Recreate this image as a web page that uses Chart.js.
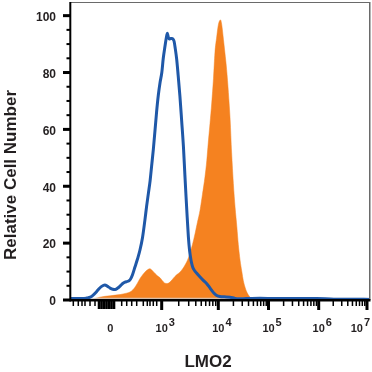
<!DOCTYPE html>
<html><head><meta charset="utf-8">
<script src="https://cdn.jsdelivr.net/npm/chart.js@4.4.0/dist/chart.umd.min.js"></script>
<style>html,body{margin:0;padding:0;background:#fff;}canvas{display:block;}</style>
</head><body>
<canvas id="c" width="372" height="372"></canvas>
<script>
const X_TITLE = "LMO2";
const Y_TITLE = "Relative Cell Number";
// display channels (0-1024) of the labelled x ticks
const X_TICK_CHANNELS = [135, 310.6, 504.5, 676.4, 848.3, 1013.7];
const X_TICK_BASE = ["0", "10", "10", "10", "10", "10"];
const X_TICK_EXP = ["", "3", "4", "5", "6", "7"];
const X_ZERO_MINOR = [7.9, 25, 37.7, 47.9, 65.1, 82.2, 173.6, 190.8, 207.9, 225, 247.6, 261.3, 270.5, 281.8, 293.5];
const X_ZERO_CLUSTER = [96, 104.5, 113, 121.6, 130.1, 138.7, 147.3];
const Y_TICKS = [0, 20, 40, 60, 80, 100];

// Blue histogram (control)
const blueChannels = [0,40,54,66,75,85,93,105,116,125,134,143,151,160,168,177,185,195,203,211,219,228,236,245,253,259,265,271,276,282,288,293,299,305,311,316,322,326,330,333,337,341,345,349,353,357,362,367,373,379,385,390,394,398,402,406,411,415,419,430,442,453,465,474,482,490,499,510,525,545,560,573,600,647,700,760,841,900,960,1024];
const blueCounts   = [0.5,0.5,0.7,1.0,1.6,2.6,3.6,4.8,5.3,4.8,4.2,3.8,3.7,4.2,4.9,5.8,6.3,6.6,7.2,9.0,11.6,14.5,17.5,22,28,33,37.5,42,47,53,60,66,72,76.5,80,85,89.3,92,93.8,92.5,91.8,92,92,91.8,91,88.5,84.6,79,71.7,63,54,44,36.3,29,22.2,17.5,14,12.2,11,9.5,8.1,6.9,5.7,4.5,3.4,2.4,1.6,1.2,1.1,1.0,0.6,0.4,0.5,0.6,0.5,0.5,0.5,0.3,0.3,0.2];

// Orange histogram (LMO2 stained)
const orangeChannels = [0,60,76,99,134,168,190,202,211,219,228,236,245,253,262,270,279,288,296,305,313,322,330,339,347,356,365,373,382,390,399,407,416,425,433,442,450,459,465,470,476,482,488,493,499,504,508,512,516,522,527,533,539,545,550,556,562,568,573,579,585,590,596,602,610,619,636,1024];
const orangeCounts   = [0,0,0.3,1.0,1.5,1.9,2.4,2.8,3.5,4.5,6,7.5,8.8,9.8,10.6,11,10.3,9.3,8.5,7.8,6.8,5.9,5.8,6.3,7.2,8.3,9.1,9.8,10.9,12.2,14,16.3,19.5,23.4,27.3,31.6,37,43.4,49,55.2,62,69.3,78,87,92.5,96.4,98,98.5,97,91.7,87,81,73,63.4,52,41,32.5,25.7,19.5,14,10,6.9,4.5,2.8,1.4,0.4,0,0];

const FONT = "'Liberation Sans', Arial, sans-serif";
const INK = '#231f20';

const pts = (xs, ys) => xs.map((x, i) => ({x, y: ys[i]}));

const decorPlugin = {
  id: 'decor',
  afterDatasetDraw(chart, args) {
    if (args.index !== 1) return;
    const {ctx, chartArea: a, scales: {y}} = chart;
    ctx.save();
    ctx.strokeStyle = '#cfcfcf';
    ctx.lineWidth = 1;
    const yy = y.getPixelForValue(0.6);
    ctx.beginPath(); ctx.moveTo(a.left, yy); ctx.lineTo(a.right, yy); ctx.stroke();
    ctx.restore();
  },
  afterDraw(chart) {
    const {ctx, chartArea: a, scales: {x, y}} = chart;
    const W = chart.width;
    ctx.save();
    // frame top & right
    ctx.fillStyle = '#6a6a6a';
    ctx.fillRect(a.left, a.top, a.right - a.left, 1);
    ctx.fillRect(a.right - 1, a.top, 1.5, a.bottom - a.top);
    ctx.fillStyle = '#000';
    // left axis line
    ctx.fillRect(a.left - 1.7, a.top, 2, a.bottom - a.top + 1);
    // bottom axis line
    ctx.fillRect(a.left - 1.7, a.bottom - 1, a.right - a.left + 2.2, 2.5);
    // y ticks
    for (let v = 0; v <= 100; v += 5) {
      const py = y.getPixelForValue(v);
      if (v % 20 === 0) ctx.fillRect(a.left - 8, py - 1.5, 8, 3);
      else ctx.fillRect(a.left - 4.5, py - 1, 4.5, 2);
    }
    // x ticks
    X_TICK_CHANNELS.forEach((c, i) => {
      if (i === 0) return;
      const px = x.getPixelForValue(c);
      ctx.fillRect(px - 1.5, a.bottom, 3, 10);
    });
    X_ZERO_CLUSTER.forEach(c => {
      const px = x.getPixelForValue(c);
      ctx.fillRect(px - 1.3, a.bottom, 2.6, 9);
    });
    const minors = X_ZERO_MINOR.slice();
    for (let i = 1; i < X_TICK_CHANNELS.length - 1; i++) {
      const p0 = X_TICK_CHANNELS[i], p1 = X_TICK_CHANNELS[i + 1];
      for (let k = 2; k <= 9; k++) minors.push(p0 + Math.log10(k) * (p1 - p0));
    }
    minors.forEach(c => {
      const px = x.getPixelForValue(c);
      ctx.fillRect(px - 0.75, a.bottom, 1.5, 6);
    });
    // x tick labels
    ctx.fillStyle = INK;
    ctx.textBaseline = 'alphabetic';
    ctx.font = 'bold 11px ' + FONT;
    X_TICK_CHANNELS.forEach((c, i) => {
      let px = x.getPixelForValue(c);
      const w = ctx.measureText(X_TICK_BASE[i]).width;
      const ew = X_TICK_EXP[i] ? ctx.measureText(X_TICK_EXP[i]).width + 1 : 0;
      // keep label inside canvas
      const overflow = px + w / 2 + ew - (W - 2);
      if (overflow > 0) px -= overflow;
      ctx.textAlign = 'center';
      ctx.fillText(X_TICK_BASE[i], px, 332);
      if (X_TICK_EXP[i]) {
        ctx.textAlign = 'left';
        ctx.fillText(X_TICK_EXP[i], px + w / 2 + 1, 326);
      }
    });
    // axis titles
    ctx.font = 'bold 17px ' + FONT;
    ctx.textAlign = 'center';
    ctx.fillText(X_TITLE, 208, 367);
    ctx.translate(16, 175);
    ctx.rotate(-Math.PI / 2);
    ctx.fillText(Y_TITLE, 0, 0);
    ctx.restore();
  }
};

new Chart(document.getElementById('c'), {
  type: 'line',
  data: {
    datasets: [
      {
        label: 'Control',
        data: pts(blueChannels, blueCounts),
        borderColor: '#1f58a8',
        borderWidth: 3,
        pointRadius: 0,
        fill: false,
        cubicInterpolationMode: 'monotone',
        order: 1
      },
      {
        label: 'LMO2',
        data: pts(orangeChannels, orangeCounts),
        borderColor: '#f58220',
        backgroundColor: '#f58220',
        borderWidth: 0.5,
        pointRadius: 0,
        fill: 'origin',
        cubicInterpolationMode: 'monotone',
        order: 2
      }
    ]
  },
  options: {
    responsive: false,
    devicePixelRatio: 1,
    animation: false,
    layout: {padding: {top: 2, right: 2, left: 0, bottom: 0}},
    plugins: {legend: {display: false}, tooltip: {enabled: false}},
    scales: {
      x: {
        type: 'linear', min: 0, max: 1024,
        afterFit(s) { s.height = 72; s.paddingLeft = 0; s.paddingRight = 0; },
        grid: {display: false, drawTicks: false},
        border: {display: false},
        ticks: {display: false}
      },
      y: {
        min: 0, max: 104.8,
        afterFit(s) { s.width = 71; s.paddingTop = 0; s.paddingBottom = 0; },
        afterBuildTicks(s) { s.ticks = Y_TICKS.map(v => ({value: v})); },
        grid: {display: false, drawTicks: false},
        border: {display: false},
        ticks: {padding: 15, labelOffset: 2, color: INK, font: {family: FONT, weight: 'bold', size: 12}}
      }
    }
  },
  plugins: [decorPlugin]
});
</script>
</body></html>
